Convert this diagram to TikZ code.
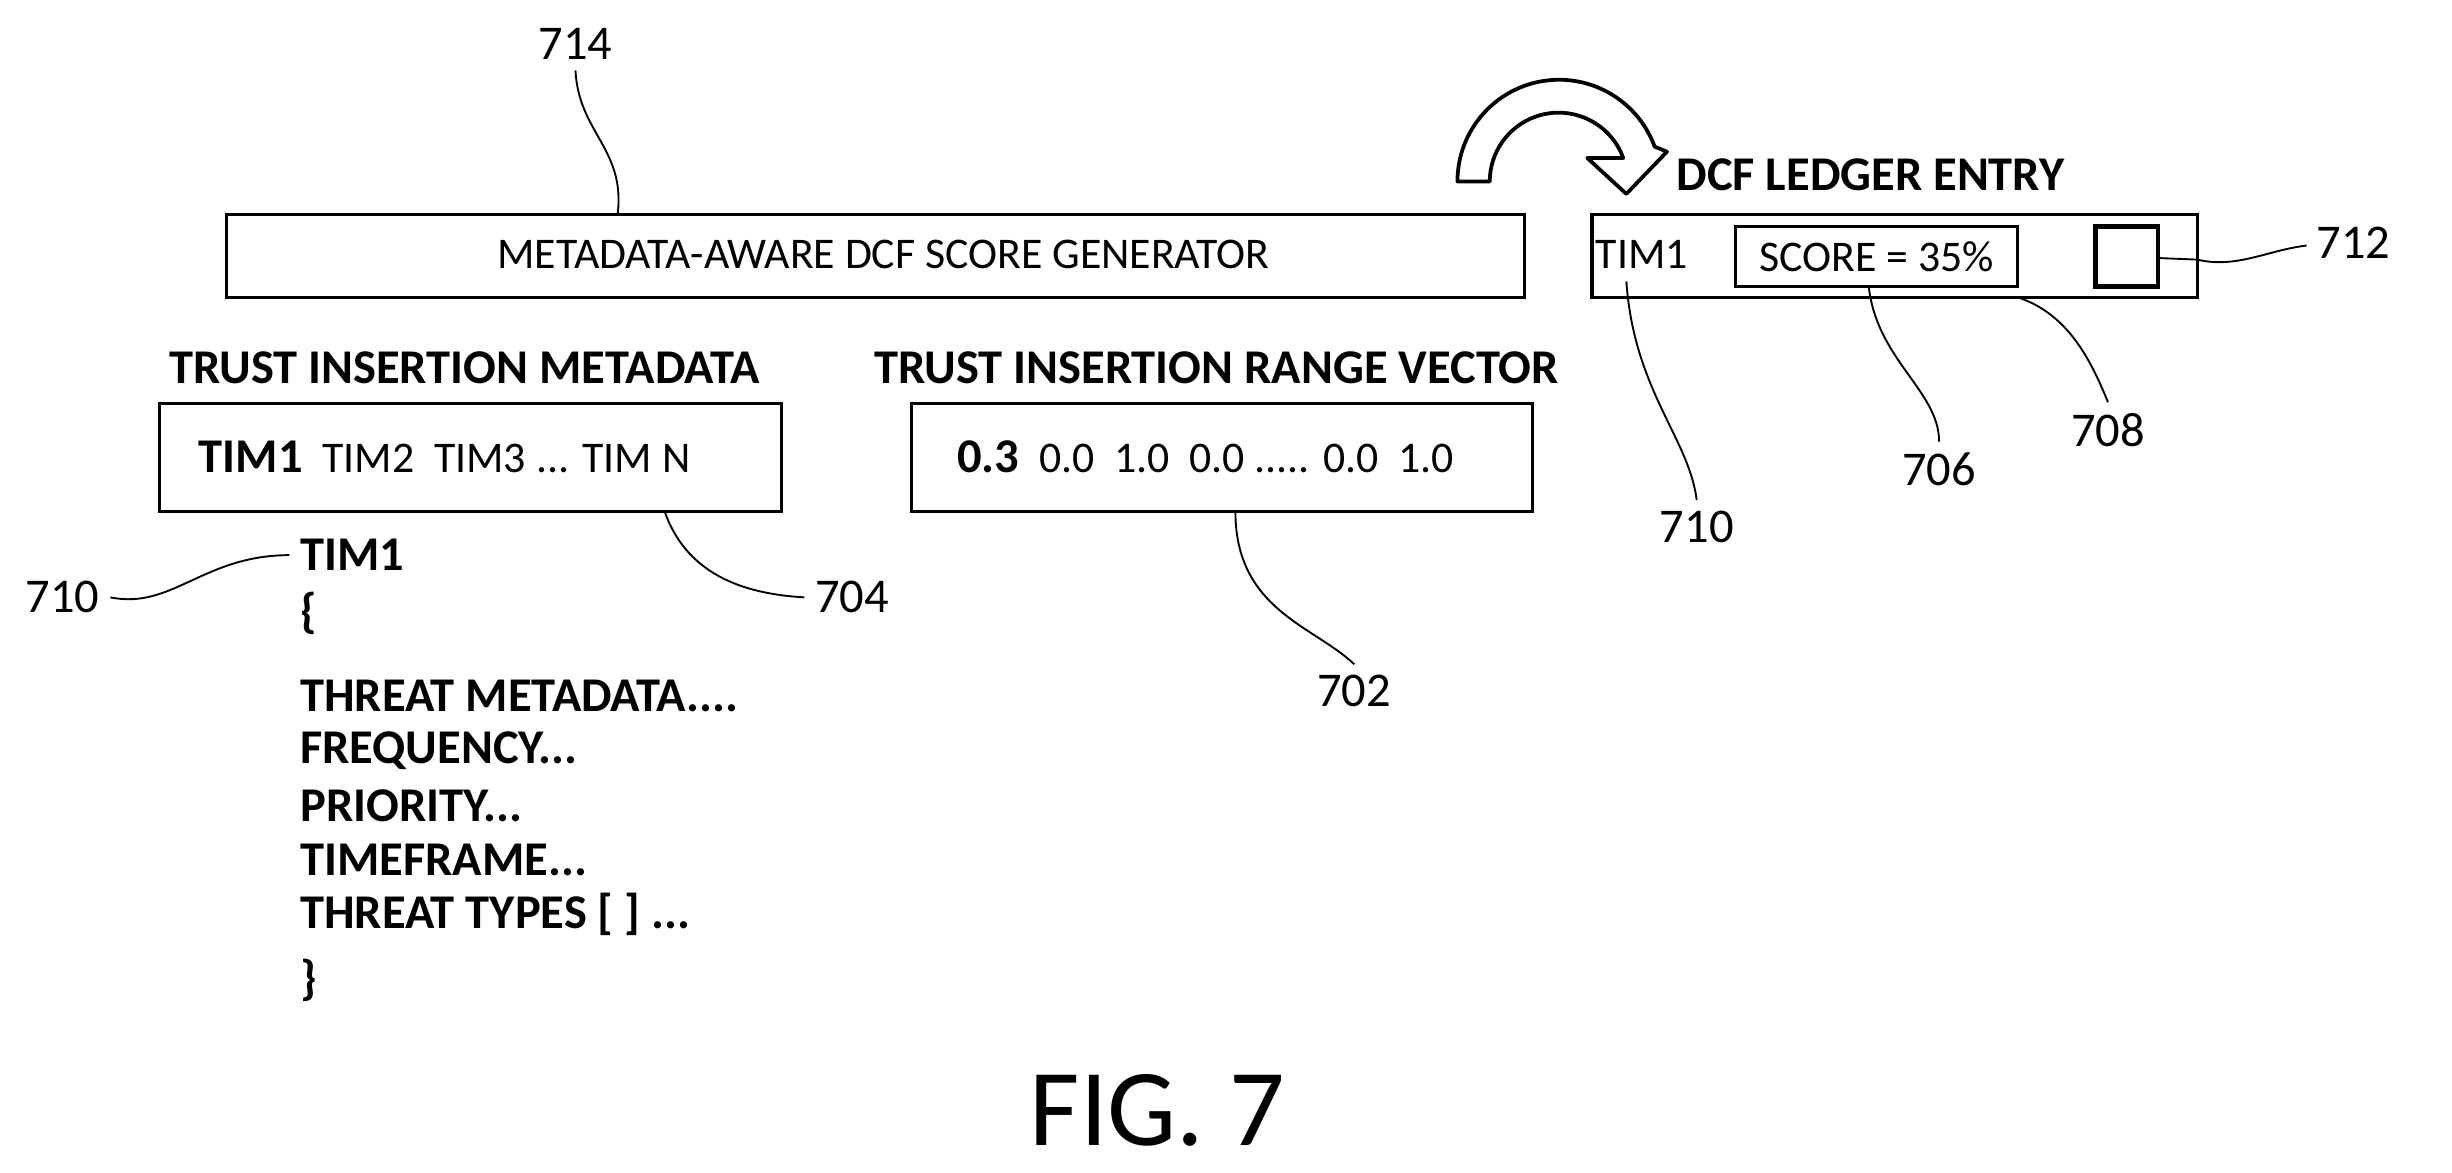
\documentclass[tikz,border=0pt]{standalone}
\usepackage{fontspec}
\setmainfont{Carlito}
\begin{document}
\begin{tikzpicture}[x=0.5pt,y=-0.5pt,
  box/.style={draw,line width=1pt,inner sep=0pt},
  lead/.style={line width=0.6pt},
  lbl/.style={font=\fontsize{15.5}{18}\selectfont},
  ttl/.style={font=\fontsize{15.5}{18}\selectfont\bfseries},
  txt/.style={font=\fontsize{14}{17}\selectfont},
  lst/.style={font=\fontsize{15.5}{18}\selectfont\bfseries,anchor=west}]
\useasboundingbox (0,0) rectangle (1568,750);
% generator
\draw[box] (145,137) rectangle (975,190);
\node[txt] (gen) at (565,163) {METADATA-AWARE DCF SCORE GENERATOR};
\node[lbl] (l714) at (368,28) {714};
\draw[lead] (395,137) .. controls (400,95) and (370,85) .. (l714.south);
% curved arrow
\draw[line width=1.2pt,fill=white,line join=round] (932,116) arc[start angle=180,end angle=340,radius=65] -- (1066,97) -- (1040,124) -- (1015,101) -- (1038,101) arc[start angle=340,end angle=180,radius=44] -- cycle;
% ledger
\node[ttl,anchor=west] (dcf) at (1065,112) {DCF LEDGER ENTRY};
\draw[box] (1018,137) rectangle (1405,190);
\node[txt] (tim1r) at (1050,163) {TIM1};
\draw[box] (1110,145) rectangle (1290,183);
\node[txt] (score) at (1200,164) {SCORE = 35\%};
\draw[line width=1.5pt] (1340,145) rectangle (1380,183);
\coordinate (sq) at (1380,165);
\node[lbl] (l712) at (1505,155) {712};
\draw[lead] (sq) -- (1405,166) .. controls (1430,172) and (1450,160) .. (1475,157);
\node[lbl] (l708) at (1348,275) {708};
\draw[lead] (1290,190) .. controls (1320,200) and (1335,225) .. (l708.north);
\node[lbl] (l706) at (1240,300) {706};
\draw[lead] (1195,183) .. controls (1200,230) and (1240,250) .. (l706.north);
\node[lbl] (l710r) at (1085,337) {710};
\draw[lead] (1040,180) .. controls (1045,250) and (1080,280) .. (l710r.north);
% metadata
\node[ttl] (tim) at (297,235) {TRUST INSERTION METADATA};
\draw[box] (102,258) rectangle (500,327);
\node[txt,anchor=west] (timrow) at (120,292) {\textbf{\fontsize{15.5}{18}\selectfont TIM1}\ \ TIM2\ \ TIM3 ... TIM N};
\node[ttl] (tir) at (778,235) {TRUST INSERTION RANGE VECTOR};
\draw[box] (583,258) rectangle (980,327);
\node[txt,anchor=west] (vec) at (605,292) {\textbf{\fontsize{15.5}{18}\selectfont 0.3}\ \ 0.0\ \ 1.0\ \ 0.0 ..... 0.0\ \ 1.0};
\node[lbl] (l704) at (545,382) {704};
\draw[lead] (425,327) .. controls (440,370) and (480,380) .. (l704.west);
\node[lbl] (l702) at (866,442) {702};
\draw[lead] (790,327) .. controls (790,390) and (840,400) .. (l702.north);
\node[lbl] (l710l) at (40,382) {710};
\draw[lead] (l710l.east) .. controls (110,390) and (130,355) .. (185,355);
% list
\node[lst] (a) at (185,355) {TIM1};
\node[lst] at (185,392) {\{};
\node[lst] at (185,445) {THREAT METADATA....};
\node[lst] at (185,480) {FREQUENCY...};
\node[lst] at (185,515) {PRIORITY...};
\node[lst] at (185,550) {TIMEFRAME...};
\node[lst] at (185,585) {THREAT TYPES [ ] ...};
\node[lst] at (185,627) {\}};
\node[font=\fontsize{35}{40}\selectfont] (fig) at (740,710) {FIG. 7};
\end{tikzpicture}
\end{document}
